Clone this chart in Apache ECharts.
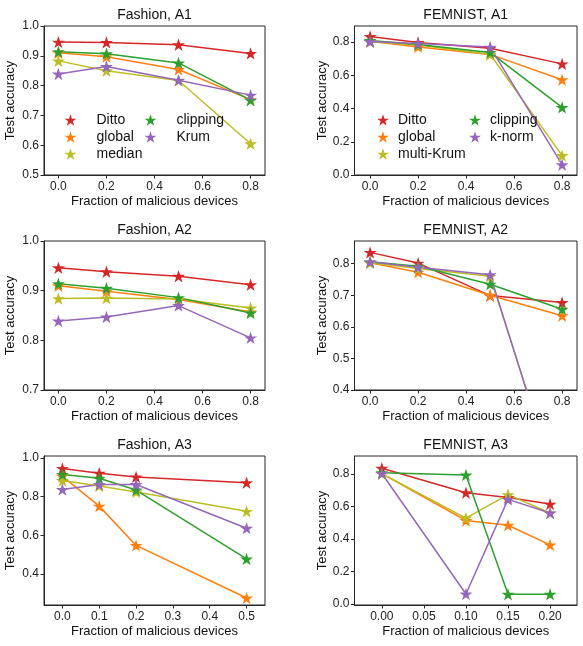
<!DOCTYPE html>
<html><head><meta charset="utf-8">
<script src="https://cdn.jsdelivr.net/npm/echarts@6/dist/echarts.min.js"></script>
<style>html,body{margin:0;padding:0;background:#fff}#c{width:583px;height:646px}</style>
</head><body><div id="c"></div>
<script>
// ---------- data ----------
const methodsFashion = ['Ditto', 'global', 'median', 'clipping', 'Krum'];
const methodsFemnist = ['Ditto', 'global', 'multi-Krum', 'clipping', 'k-norm'];

const xA12 = [0.0, 0.2, 0.5, 0.8];
const xFashionA3 = [0.0, 0.1, 0.2, 0.5];
const xFemnistA3 = [0.0, 0.1, 0.15, 0.2];

// Fashion, A1
const fashionA1_Ditto    = [0.946, 0.945, 0.937, 0.908];
const fashionA1_global   = [0.910, 0.897, 0.854, 0.753];
const fashionA1_median   = [0.883, 0.850, 0.817, 0.605];
const fashionA1_clipping = [0.914, 0.907, 0.876, 0.751];
const fashionA1_Krum     = [0.839, 0.864, 0.818, 0.768];
// FEMNIST, A1
const femnistA1_Ditto     = [0.834, 0.798, 0.763, 0.669];
const femnistA1_global    = [0.805, 0.771, 0.726, 0.573];
const femnistA1_multiKrum = [0.803, 0.782, 0.727, 0.117];
const femnistA1_clipping  = [0.810, 0.786, 0.738, 0.407];
const femnistA1_knorm     = [0.803, 0.792, 0.770, 0.062];
// Fashion, A2
const fashionA2_Ditto    = [0.946, 0.938, 0.929, 0.912];
const fashionA2_global   = [0.910, 0.899, 0.882, 0.857];
const fashionA2_median   = [0.884, 0.885, 0.883, 0.865];
const fashionA2_clipping = [0.914, 0.905, 0.886, 0.855];
const fashionA2_Krum     = [0.839, 0.847, 0.870, 0.805];
// FEMNIST, A2
const femnistA2_Ditto     = [0.836, 0.802, 0.699, 0.677];
const femnistA2_global    = [0.803, 0.773, 0.700, 0.635];
const femnistA2_multiKrum = [0.803, 0.785, 0.760, 0.050];
const femnistA2_clipping  = [0.806, 0.792, 0.735, 0.656];
const femnistA2_knorm     = [0.806, 0.789, 0.765, 0.040];
// Fashion, A3
const fashionA3_Ditto    = [0.946, 0.921, 0.902, 0.872];
const fashionA3_global   = [0.905, 0.751, 0.548, 0.276];
const fashionA3_median   = [0.883, 0.855, 0.824, 0.724];
const fashionA3_clipping = [0.914, 0.895, 0.834, 0.478];
const fashionA3_Krum     = [0.837, 0.863, 0.863, 0.637];
// FEMNIST, A3
const femnistA3_Ditto     = [0.836, 0.685, 0.655, 0.615];
const femnistA3_global    = [0.803, 0.514, 0.485, 0.364];
const femnistA3_multiKrum = [0.803, 0.529, 0.673, 0.560];
const femnistA3_clipping  = [0.808, 0.794, 0.060, 0.060];
const femnistA3_knorm     = [0.803, 0.062, 0.644, 0.560];

// tick labels
const xTicksA12 = [0.0, 0.2, 0.4, 0.6, 0.8];
const xTicksFashionA3 = [0.0, 0.1, 0.2, 0.3, 0.4, 0.5];
const xTicksFemnistA3 = [0.00, 0.05, 0.10, 0.15, 0.20];
const yTicksFashionA1 = [0.5, 0.6, 0.7, 0.8, 0.9, 1.0];
const yTicksFemnistA1 = [0.0, 0.2, 0.4, 0.6, 0.8];
const yTicksFashionA2 = [0.7, 0.8, 0.9, 1.0];
const yTicksFemnistA2 = [0.4, 0.5, 0.6, 0.7, 0.8];
const yTicksFashionA3 = [0.4, 0.6, 0.8, 1.0];
const yTicksFemnistA3 = [0.0, 0.2, 0.4, 0.6, 0.8];

const titles = ['Fashion, A1', 'FEMNIST, A1', 'Fashion, A2', 'FEMNIST, A2', 'Fashion, A3', 'FEMNIST, A3'];

// ---------- style ----------
const colors = ['#d62728', '#ff7f0e', '#bcbd22', '#2ca02c', '#9467bd'];
const FONT = '"Liberation Sans", Arial, sans-serif';
const AX = '#262626';

function starPath() {
  const pts = [];
  for (let i = 0; i < 10; i++) {
    const r = i % 2 === 0 ? 1 : 0.382;
    const a = -Math.PI / 2 + i * Math.PI / 5;
    pts.push([(r * Math.cos(a) * 50 + 50).toFixed(2), (r * Math.sin(a) * 50 + 50).toFixed(2)]);
  }
  return 'path://M' + pts.map(p => p[0] + ',' + p[1]).join('L') + 'Z';
}
const STAR = starPath();

const panels = [
  { title: titles[0], names: methodsFashion, x: xA12, ys: [fashionA1_Ditto, fashionA1_global, fashionA1_median, fashionA1_clipping, fashionA1_Krum],
    xr: [-0.06, 0.86], yr: [0.5, 1.0], xt: xTicksA12, yt: yTicksFashionA1, xd: 1, yd: 1 },
  { title: titles[1], names: methodsFemnist, x: xA12, ys: [femnistA1_Ditto, femnistA1_global, femnistA1_multiKrum, femnistA1_clipping, femnistA1_knorm],
    xr: [-0.065, 0.862], yr: [0.0, 0.897], xt: xTicksA12, yt: yTicksFemnistA1, xd: 1, yd: 1 },
  { title: titles[2], names: methodsFashion, x: xA12, ys: [fashionA2_Ditto, fashionA2_global, fashionA2_median, fashionA2_clipping, fashionA2_Krum],
    xr: [-0.06, 0.86], yr: [0.7, 1.0], xt: xTicksA12, yt: yTicksFashionA2, xd: 1, yd: 1 },
  { title: titles[3], names: methodsFemnist, x: xA12, ys: [femnistA2_Ditto, femnistA2_global, femnistA2_multiKrum, femnistA2_clipping, femnistA2_knorm],
    xr: [-0.065, 0.862], yr: [0.4, 0.872], xt: xTicksA12, yt: yTicksFemnistA2, xd: 1, yd: 1 },
  { title: titles[4], names: methodsFashion, x: xFashionA3, ys: [fashionA3_Ditto, fashionA3_global, fashionA3_median, fashionA3_clipping, fashionA3_Krum],
    xr: [-0.05, 0.55], yr: [0.24, 1.01], xt: xTicksFashionA3, yt: yTicksFashionA3, xd: 1, yd: 1 },
  { title: titles[5], names: methodsFemnist, x: xFemnistA3, ys: [femnistA3_Ditto, femnistA3_global, femnistA3_multiKrum, femnistA3_clipping, femnistA3_knorm],
    xr: [-0.0325, 0.232], yr: [-0.006, 0.911], xt: xTicksFemnistA3, yt: yTicksFemnistA3, xd: 2, yd: 1 }
];

const colLeft = [44, 354.5], colWidth = [221, 222.5];
const rowTop = [26, 241, 456], rowHeight = 149;

const option = {
  animation: false,
  backgroundColor: '#fff',
  textStyle: { fontFamily: FONT },
  title: [], grid: [], xAxis: [], yAxis: [], series: [], legend: []
};

panels.forEach((p, i) => {
  const c = i % 2, r = Math.floor(i / 2);
  const left = colLeft[c], top = rowTop[r], w = colWidth[c];
  option.grid.push({ left, top, width: w, height: rowHeight, show: true, borderColor: AX, borderWidth: 1,
    backgroundColor: 'transparent', containLabel: false, outerBoundsMode: 'none' });
  option.title.push({ text: p.title, left: left + w / 2, top: top - 18, textAlign: 'center', padding: 0,
    textStyle: { fontFamily: FONT, fontSize: 14, fontWeight: 'normal', color: '#111' } });
  option.xAxis.push({
    type: 'value', gridIndex: i, min: p.xr[0], max: p.xr[1],
    name: 'Fraction of malicious devices', nameLocation: 'middle', nameGap: 20,
    nameTextStyle: { fontFamily: FONT, fontSize: 13, color: '#111' },
    axisLine: { show: true, onZero: false, lineStyle: { color: AX, width: 1 } },
    axisTick: { show: true, length: 3.5, customValues: p.xt, lineStyle: { color: AX, width: 1 } },
    axisLabel: { customValues: p.xt, margin: 6, fontFamily: FONT, fontSize: 12, color: '#222',
      formatter: v => Number(v).toFixed(p.xd) },
    splitLine: { show: false }
  });
  option.yAxis.push({
    type: 'value', gridIndex: i, min: p.yr[0], max: p.yr[1],
    name: 'Test accuracy', nameLocation: 'middle', nameGap: c === 0 ? 27 : 26,
    nameTextStyle: { fontFamily: FONT, fontSize: 13, color: '#111' },
    axisLine: { show: true, onZero: false, lineStyle: { color: AX, width: 1 } },
    axisTick: { show: true, length: 3.5, customValues: p.yt, lineStyle: { color: AX, width: 1 } },
    axisLabel: { customValues: p.yt, margin: 5, fontFamily: FONT, fontSize: 12, color: '#222',
      formatter: v => Number(v).toFixed(p.yd) },
    splitLine: { show: false }
  });
  p.names.forEach((n, k) => {
    option.series.push({
      type: 'line', name: n, xAxisIndex: i, yAxisIndex: i,
      data: p.x.map((xv, j) => [xv, p.ys[k][j]]),
      symbol: STAR, symbolSize: 13, symbolKeepAspect: true, showAllSymbol: true,
      clip: true,
      lineStyle: { color: colors[k], width: 1.5 },
      itemStyle: { color: colors[k], borderWidth: 0 },
      emphasis: { disabled: true }
    });
  });
});

// legends (panels 1 and 2 only)
function legendBlock(names, idxs, left, top, padLeft) {
  return {
    orient: 'vertical', left, top, padding: 0, itemGap: 3, itemWidth: 12, itemHeight: 12,
    selectedMode: false,
    data: idxs.map(k => ({ name: names[k], icon: STAR, itemStyle: { color: colors[k] } })),
    textStyle: { fontFamily: FONT, fontSize: 14, color: '#111', padding: [0, 0, 0, padLeft] }
  };
}
option.legend.push(legendBlock(methodsFashion, [0, 1, 2], 64.5, 113, 15));
option.legend.push(legendBlock(methodsFashion, [3, 4], 144.5, 113, 15));
option.legend.push(legendBlock(methodsFemnist, [0, 1, 2], 377, 113, 4));
option.legend.push(legendBlock(methodsFemnist, [3, 4], 469, 113, 4));

const chart = echarts.init(document.getElementById('c'), null, { renderer: 'canvas' });
chart.setOption(option);
</script>
</body></html>
